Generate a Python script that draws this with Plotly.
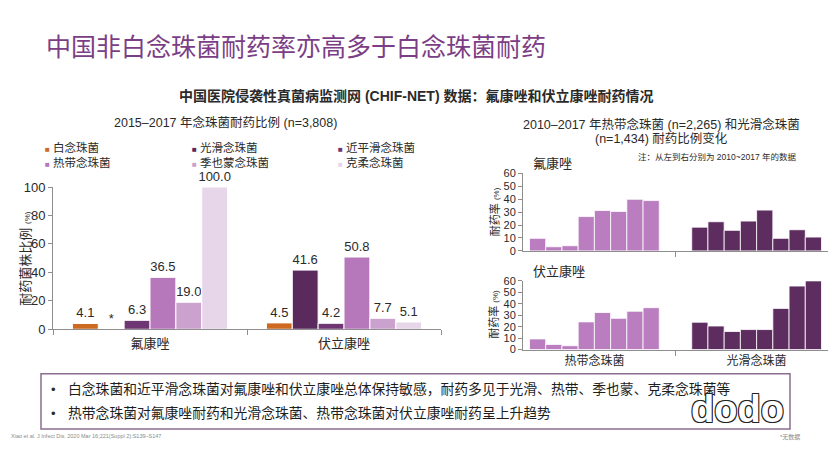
import plotly.graph_objects as go

W, H = 828, 466
FONT = "Liberation Sans, Arial, Noto Sans CJK SC, sans-serif"

# ---------------- data ----------------
drugs = ["氟康唑", "伏立康唑"]
species = ["白念珠菌", "光滑念珠菌", "近平滑念珠菌", "热带念珠菌", "季也蒙念珠菌", "克柔念珠菌"]
albicans = [4.1, 4.5]
glabrata = [None, 41.6]          # None = 无数据 (*)
parapsilosis = [6.3, 4.2]
tropicalis = [36.5, 50.8]
guilliermondii = [19.0, 7.7]
krusei = [100.0, 5.1]
left_values = [albicans, glabrata, parapsilosis, tropicalis, guilliermondii, krusei]

years = [2010, 2011, 2012, 2013, 2014, 2015, 2016, 2017]
right_species = ["热带念珠菌", "光滑念珠菌"]
trop_flu = [9.7, 3.2, 4.0, 26.6, 31.3, 30.6, 40.0, 39.0]
glab_flu = [18.4, 22.6, 15.9, 23.1, 31.6, 9.7, 16.4, 10.7]
trop_vori = [9.3, 4.5, 3.4, 24.2, 32.4, 27.3, 33.5, 36.6]
glab_vori = [23.9, 20.6, 15.8, 17.5, 17.5, 36.0, 55.5, 60.0]

left_y_ticks = [0, 20, 40, 60, 80, 100]
right_y_ticks = [0, 10, 20, 30, 40, 50, 60]

# ---------------- styles ----------------
left_colors = ["#CD6A22", "#5A2A5C", "#6E3773", "#B678BA", "#CAA2CD", "#E7D5E9"]
c_trop = "#BA7DC0"
c_glab = "#5E2D60"
axis_col = "#8E8E8E"
txt_col = "#2A2A2A"


def px(x, y):
    return x / W, 1 - y / H


fig = go.Figure()

# left grouped bars
for name, vals, col in zip(species, left_values, left_colors):
    yv = [v if v is not None else 0 for v in vals]
    tx = [f"{v:.1f}" if v is not None else "*" for v in vals]
    fig.add_trace(go.Bar(
        x=drugs, y=yv, name=name, text=tx, textposition="outside",
        constraintext="none",
        textfont=dict(size=13, color=txt_col, family=FONT),
        marker=dict(color=col, line=dict(color="white", width=1)),
        cliponaxis=False, showlegend=False, xaxis="x", yaxis="y"))

# right charts
for axn, trop, glab in (("2", trop_flu, glab_flu), ("3", trop_vori, glab_vori)):
    for i, yr in enumerate(years):
        fig.add_trace(go.Bar(
            x=right_species, y=[trop[i], glab[i]], name=str(yr),
            marker=dict(color=[c_trop, c_glab], line=dict(color="white", width=0.8)),
            showlegend=False, cliponaxis=False,
            xaxis="x" + axn, yaxis="y" + axn))

x0, y0 = px(53, 333)
x1, y1 = px(441, 186)
rx0, _ = px(523, 0)

common_x = dict(showline=True, linecolor=axis_col, linewidth=1, ticks="outside",
                tickson="boundaries", ticklen=5, tickcolor=axis_col, showgrid=False,
                zeroline=False, tickfont=dict(size=13, color=txt_col, family=FONT))
common_y = dict(showline=True, linecolor=axis_col, linewidth=1, ticks="outside",
                ticklen=4, tickcolor=axis_col, showgrid=False, zeroline=False)

fig.update_layout(
    width=W, height=H, margin=dict(l=0, r=0, t=0, b=0),
    paper_bgcolor="white", plot_bgcolor="white",
    font=dict(family=FONT, color=txt_col),
    barmode="group", bargap=0.2, bargroupgap=0,
    xaxis=dict(domain=[x0, x1], anchor="y", ticklabelstandoff=2, **common_x),
    yaxis=dict(domain=[y0, y1], anchor="x", range=[0, 100], tickvals=left_y_ticks,
               tickfont=dict(size=13, color=txt_col), **common_y),
    xaxis2=dict(domain=[rx0, 1.0], anchor="y2", range=[-0.44, 1.44],
                showticklabels=False, **common_x),
    yaxis2=dict(domain=[1 - 252 / H, 1 - 172 / H], anchor="x2", range=[0, 60],
                tickvals=right_y_ticks, tickfont=dict(size=11, color=txt_col), **common_y),
    xaxis3=dict(domain=[rx0, 1.0], anchor="y3", range=[-0.44, 1.44], **common_x),
    yaxis3=dict(domain=[1 - 354 / H, 1 - 283 / H], anchor="x3", range=[0, 60],
                tickvals=right_y_ticks, tickfont=dict(size=11, color=txt_col), **common_y),
)
fig.update_layout(xaxis3_tickfont=dict(size=12, color=txt_col, family=FONT))

ann = []


def add_text(x, y, text, size, color=txt_col, xanchor="center", yanchor="middle",
             angle=0, **kw):
    ax, ay = px(x, y)
    ann.append(dict(x=ax, y=ay, xref="paper", yref="paper", text=text, showarrow=False,
                    xanchor=xanchor, yanchor=yanchor, textangle=angle, borderpad=0,
                    align="left",
                    font=dict(size=size, color=color, family=FONT, **kw)))


# titles
add_text(45, 41, "中国非白念珠菌耐药率亦高多于白念珠菌耐药", 25, color="#7B3E86", xanchor="left")
add_text(416, 92, "<b>中国医院侵袭性真菌病监测网 (CHIF-NET) 数据：氟康唑和伏立康唑耐药情况</b>", 14)
add_text(225, 119, "2015–2017 年念珠菌耐药比例 (n=3,808)", 12.5)
add_text(661, 121, "2010–2017 年热带念珠菌 (n=2,265) 和光滑念珠菌", 12.5)
add_text(661, 136, "(n=1,434) 耐药比例变化", 12.5)
add_text(637, 155, "注：从左到右分别为 2010~2017 年的数据", 8.5, xanchor="left")

# left legend (three columns, two rows)
leg_x = [44, 191, 337]


def leg_item(name, col):
    return f"<span style='color:{col}; font-size:8px'>■</span> {name}"


for c, lx in enumerate(leg_x):
    lines = [leg_item(species[c], left_colors[c]), leg_item(species[c + 3], left_colors[c + 3])]
    add_text(lx, 153, "<br>".join(lines), 11.5, xanchor="left")

# axis titles / panel labels
add_text(26, 260, "耐药菌株比例 <span style='font-size:8px'>(%)</span>", 13, angle=-90)
add_text(494, 212, "耐药率 <span style='font-size:8px'>(%)</span>", 11, angle=-90)
add_text(494, 318, "耐药率 <span style='font-size:8px'>(%)</span>", 11, angle=-90)
add_text(532, 162, "氟康唑", 13, xanchor="left")
add_text(532, 273, "伏立康唑", 13, xanchor="left")

# bullet box
bx0, by0 = px(41, 379)
bx1, by1 = px(790, 436)
shapes = [dict(type="rect", xref="paper", yref="paper", x0=bx0, x1=bx1, y0=by1, y1=by0,
               line=dict(color="#8C6C91", width=1.5), fillcolor="rgba(0,0,0,0)")]
add_text(50, 395, "•", 13, xanchor="left")
add_text(67, 395, "白念珠菌和近平滑念珠菌对氟康唑和伏立康唑总体保持敏感，耐药多见于光滑、热带、季也蒙、克柔念珠菌等",
         13.8, color="#1E1E1E", xanchor="left")
add_text(50, 420, "•", 13, xanchor="left")
add_text(67, 420, "热带念珠菌对氟康唑耐药和光滑念珠菌、热带念珠菌对伏立康唑耐药呈上升趋势",
         13.8, color="#1E1E1E", xanchor="left")

# footnotes
add_text(10, 443, "Xiao et al. J Infect Dis. 2020 Mar 16;221(Suppl 2):S139–S147", 5.5,
         color="#8A8A8A", xanchor="left")
add_text(801, 444, "*无数据", 6, color="#8A8A8A", xanchor="right")

# watermark
add_text(737, 415, "<b>dodo</b>", 38, color="white",
         shadow="1px 1px 0 #222, -1px -1px 0 #222, 1px -1px 0 #222, -1px 1px 0 #222")

fig.update_layout(annotations=ann, shapes=shapes)
fig.write_html("out.html", config={"displayModeBar": False},
               post_script="document.body.style.margin='0';document.body.style.padding='0';")
